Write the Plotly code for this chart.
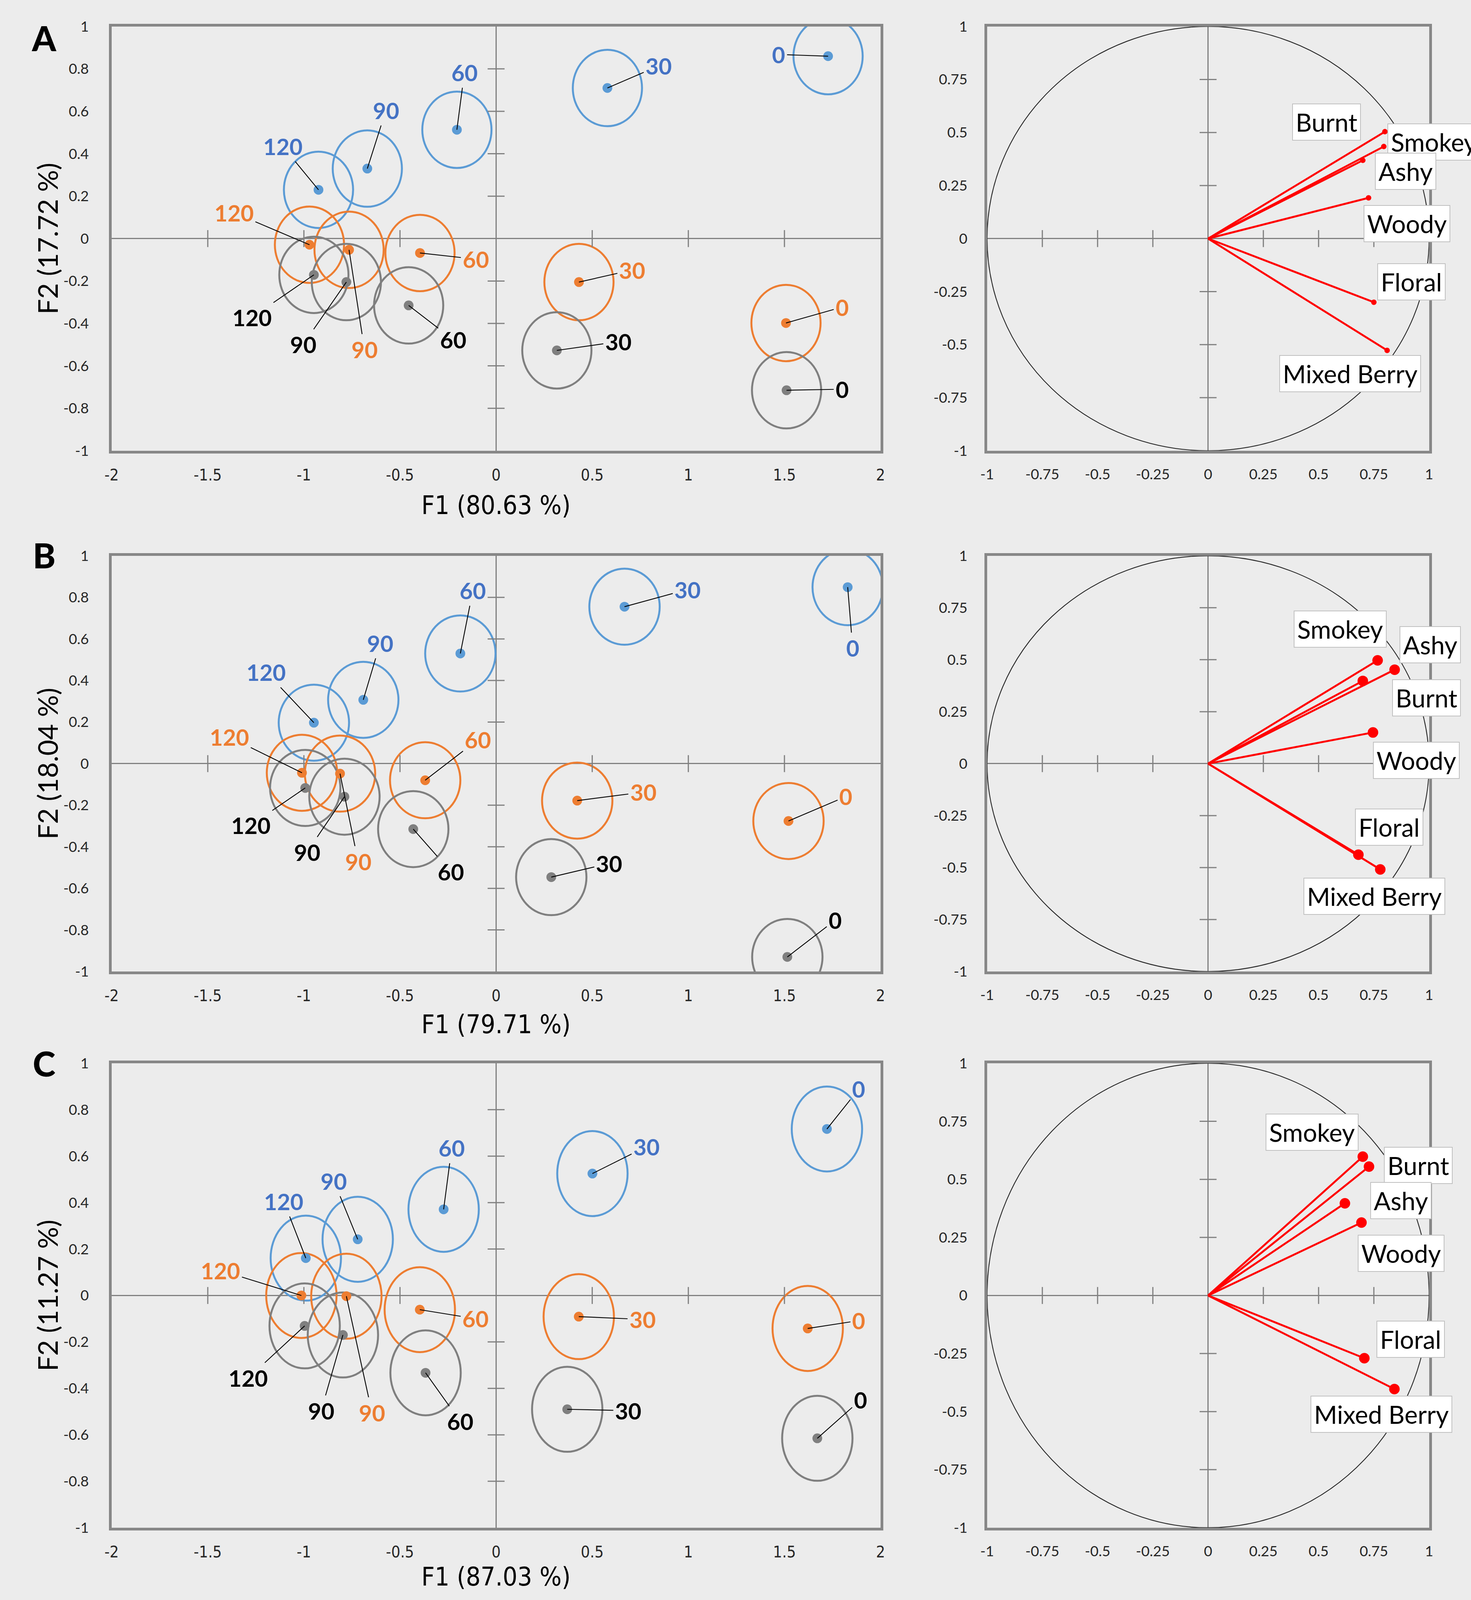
import plotly.graph_objects as go

# The page is shown in a viewport of 3767 x 4096 px, so the figure is sized to fit it;
# all positions below are fractions measured on the 3767 x 4350 reference.
W, H = 3767, 4096
RH = 4350  # reference height used for the measured fractions

# ---------------- DATA ----------------
times = ["0", "30", "60", "90", "120"]
x_ticks_scores = [-2, -1.5, -1, -0.5, 0, 0.5, 1, 1.5, 2]
x_ticktext_scores = ["-2", "-1.5", "-1", "-0.5", "0", "0.5", "1", "1.5", "2"]
y_ticks_scores = [-1, -0.8, -0.6, -0.4, -0.2, 0, 0.2, 0.4, 0.6, 0.8, 1]
y_ticktext_scores = ["-1", "-0.8", "-0.6", "-0.4", "-0.2", "0", "0.2", "0.4", "0.6", "0.8", "1"]
ticks_circle = [-1, -0.75, -0.5, -0.25, 0, 0.25, 0.5, 0.75, 1]
ticktext_circle = ["-1", "-0.75", "-0.5", "-0.25", "0", "0.25", "0.5", "0.75", "1"]

x_titles = ["F1 (80.63 %)", "F1 (79.71 %)", "F1 (87.03 %)"]
y_titles = ["F2 (17.72 %)", "F2 (18.04 %)", "F2 (11.27 %)"]
panel_letters = ["A", "B", "C"]

# scores (F1, F2) for groups blue / orange / grey, times 0..120
A_blue_x = [1.727, 0.579, -0.204, -0.670, -0.924]
A_blue_y = [0.860, 0.710, 0.513, 0.330, 0.230]
A_orange_x = [1.508, 0.431, -0.396, -0.765, -0.971]
A_orange_y = [-0.398, -0.205, -0.068, -0.053, -0.029]
A_grey_x = [1.511, 0.316, -0.455, -0.779, -0.948]
A_grey_y = [-0.715, -0.527, -0.315, -0.205, -0.171]

B_blue_x = [1.829, 0.668, -0.186, -0.691, -0.948]
B_blue_y = [0.849, 0.755, 0.530, 0.307, 0.197]
B_orange_x = [1.521, 0.422, -0.369, -0.812, -1.010]
B_orange_y = [-0.276, -0.178, -0.080, -0.048, -0.044]
B_grey_x = [1.515, 0.287, -0.431, -0.789, -0.993]
B_grey_y = [-0.930, -0.546, -0.315, -0.159, -0.117]

C_blue_x = [1.721, 0.501, -0.273, -0.720, -0.990]
C_blue_y = [0.717, 0.525, 0.371, 0.242, 0.161]
C_orange_x = [1.621, 0.430, -0.397, -0.779, -1.013]
C_orange_y = [-0.142, -0.091, -0.061, -0.003, 0.000]
C_grey_x = [1.671, 0.370, -0.367, -0.797, -0.996]
C_grey_y = [-0.615, -0.490, -0.333, -0.170, -0.131]

# loadings (correlation circle)
A_vars = ["Burnt", "Smokey", "Ashy", "Woody", "Floral", "Mixed Berry"]
A_load_x = [0.800, 0.795, 0.700, 0.726, 0.750, 0.810]
A_load_y = [0.504, 0.434, 0.369, 0.192, -0.300, -0.527]
B_vars = ["Smokey", "Ashy", "Burnt", "Woody", "Floral", "Mixed Berry"]
B_load_x = [0.767, 0.844, 0.700, 0.746, 0.680, 0.779]
B_load_y = [0.497, 0.452, 0.398, 0.150, -0.438, -0.509]
C_vars = ["Smokey", "Burnt", "Ashy", "Woody", "Floral", "Mixed Berry"]
C_load_x = [0.700, 0.728, 0.619, 0.694, 0.707, 0.843]
C_load_y = [0.598, 0.555, 0.397, 0.314, -0.270, -0.403]

# ---------------- LAYOUT (label placement, sizes, styles) ----------------
A_lbl = {
    "blue": [(1.47, 0.868), (0.845, 0.814), (-0.165, 0.783), (-0.573, 0.605), (-1.11, 0.435)],
    "orange": [(1.80, -0.323), (0.708, -0.148), (-0.106, -0.097), (-0.685, -0.522), (-1.364, 0.122)],
    "grey": [(1.80, -0.71), (0.635, -0.486), (-0.224, -0.476), (-1.004, -0.499), (-1.27, -0.371)],
}
B_lbl = {
    "blue": [(1.855, 0.557), (0.996, 0.838), (-0.121, 0.833), (-0.603, 0.58), (-1.196, 0.44)],
    "orange": [(1.82, -0.158), (0.765, -0.137), (-0.095, 0.115), (-0.718, -0.47), (-1.388, 0.128)],
    "grey": [(1.764, -0.753), (0.588, -0.48), (-0.236, -0.52), (-0.984, -0.426), (-1.276, -0.296)],
}
C_lbl = {
    "blue": [(1.887, 0.889), (0.782, 0.641), (-0.231, 0.635), (-0.844, 0.493), (-1.105, 0.406)],
    "orange": [(1.887, -0.108), (0.761, -0.103), (-0.107, -0.10), (-0.646, -0.504), (-1.434, 0.108)],
    "grey": [(1.896, -0.45), (0.687, -0.496), (-0.187, -0.542), (-0.91, -0.496), (-1.289, -0.355)],
}
# (x, y, xanchor)
A_vlbl = [(0.536, 0.549, "center"), (0.811, 0.456, "left"), (0.893, 0.318, "center"),
          (0.90, 0.07, "center"), (0.921, -0.203, "center"), (0.643, -0.636, "center")]
B_vlbl = [(0.598, 0.648, "center"), (0.866, 0.573, "left"), (0.988, 0.316, "center"),
          (0.943, 0.016, "center"), (0.82, -0.305, "center"), (0.752, -0.6375, "center")]
C_vlbl = [(0.471, 0.703, "center"), (0.951, 0.56, "center"), (0.872, 0.408, "center"),
          (0.874, 0.182, "center"), (0.917, -0.188, "center"), (0.463, -0.512, "left")]

ell_r = [0.18, 0.183, 0.183]
load_marker = [14, 27, 27]

left_dom_x = [0.0717, 0.5986]
right_dom_x = [0.6716, 0.9745]
dom_y = [[0.7211, 0.9892], [0.392, 0.6547], [0.0405, 0.334]]
xtitle_y = [1 - 1363 / RH, 1 - 2790 / RH, 1 - 4309 / RH]
letter_y = [1 - 78 / RH, 1 - 1500 / RH, 1 - 2897 / RH]

COL = {
    "blue": dict(pt="#5b9bd5", ell="#5b9bd5", txt="#4472c4"),
    "orange": dict(pt="#ed7d31", ell="#ed7d31", txt="#ed7d31"),
    "grey": dict(pt="#7f7f7f", ell="#7f7f7f", txt="#000000"),
}
BG = "#ececec"
FRAME = "#878787"
AXC = "#808080"
NARROW = "Liberation Sans Narrow, DejaVu Sans Condensed, Roboto, sans-serif"
REG = "Lato, Open Sans, sans-serif"

panels = [
    dict(scores={"blue": (A_blue_x, A_blue_y), "orange": (A_orange_x, A_orange_y), "grey": (A_grey_x, A_grey_y)},
         lbl=A_lbl, vars=A_vars, lx=A_load_x, ly=A_load_y, vlbl=A_vlbl),
    dict(scores={"blue": (B_blue_x, B_blue_y), "orange": (B_orange_x, B_orange_y), "grey": (B_grey_x, B_grey_y)},
         lbl=B_lbl, vars=B_vars, lx=B_load_x, ly=B_load_y, vlbl=B_vlbl),
    dict(scores={"blue": (C_blue_x, C_blue_y), "orange": (C_orange_x, C_orange_y), "grey": (C_grey_x, C_grey_y)},
         lbl=C_lbl, vars=C_vars, lx=C_load_x, ly=C_load_y, vlbl=C_vlbl),
]

fig = go.Figure()
shapes = []
annotations = []
layout_axes = {}


def axname(n):
    return ("x" if n == 1 else f"x{n}"), ("y" if n == 1 else f"y{n}")


for i, p in enumerate(panels):
    nl, nr = 2 * i + 1, 2 * i + 2
    xl, yl = axname(nl)
    xr, yr = axname(nr)

    # ---- axes ----
    common = dict(showgrid=False, zeroline=True, zerolinecolor=AXC, zerolinewidth=3,
                  showline=True, mirror=True, linecolor=FRAME, linewidth=7,
                  ticks="outside", tickcolor="rgba(0,0,0,0)", fixedrange=True)
    layout_axes["xaxis" if nl == 1 else f"xaxis{nl}"] = dict(
        common, domain=left_dom_x, range=[-2, 2], anchor=yl,
        tickvals=x_ticks_scores, ticktext=x_ticktext_scores, ticklen=20,
        tickfont=dict(family=NARROW, size=41, color="#262626"))
    layout_axes[f"yaxis{nl}" if nl > 1 else "yaxis"] = dict(
        common, domain=dom_y[i], range=[-1, 1], anchor=xl,
        tickvals=y_ticks_scores, ticktext=y_ticktext_scores, ticklen=44,
        tickfont=dict(family=REG, size=37, color="#262626"))
    layout_axes[f"xaxis{nr}"] = dict(
        common, domain=right_dom_x, range=[-1, 1], anchor=yr,
        tickvals=ticks_circle, ticktext=ticktext_circle, ticklen=22,
        tickfont=dict(family=REG, size=37, color="#262626"))
    layout_axes[f"yaxis{nr}"] = dict(
        common, domain=dom_y[i], range=[-1, 1], anchor=xr,
        tickvals=ticks_circle, ticktext=ticktext_circle, ticklen=36,
        tickfont=dict(family=REG, size=37, color="#262626"))

    # ---- tick marks crossing the zero lines ----
    xt_in = [t for t in x_ticks_scores if t not in (0, -2, 2)]
    yt_in = [t for t in y_ticks_scores if t not in (0, -1, 1)]
    ct_in = [t for t in ticks_circle if t not in (0, -1, 1)]
    for xa, ya, xs, ys in [(xl, yl, xt_in, yt_in), (xr, yr, ct_in, ct_in)]:
        fig.add_trace(go.Scatter(x=xs, y=[0] * len(xs), xaxis=xa, yaxis=ya, mode="markers",
                                 marker=dict(symbol="line-ns", size=31, line=dict(width=3, color=AXC)),
                                 hoverinfo="skip", showlegend=False))
        fig.add_trace(go.Scatter(x=[0] * len(ys), y=ys, xaxis=xa, yaxis=ya, mode="markers",
                                 marker=dict(symbol="line-ew", size=31, line=dict(width=3, color=AXC)),
                                 hoverinfo="skip", showlegend=False))

    # ---- score points, ellipses, labels ----
    r = ell_r[i]
    for g in ["blue", "orange", "grey"]:
        xs, ys = p["scores"][g]
        for x, y in zip(xs, ys):
            shapes.append(dict(type="circle", xref=xl, yref=yl, x0=x - r, x1=x + r, y0=y - r, y1=y + r,
                               line=dict(color=COL[g]["ell"], width=5), layer="between"))
        fig.add_trace(go.Scatter(x=xs, y=ys, xaxis=xl, yaxis=yl, mode="markers",
                                 marker=dict(size=25, color=COL[g]["pt"]),
                                 hoverinfo="skip", showlegend=False))
        for t, x, y, (ax, ay) in zip(times, xs, ys, p["lbl"][g]):
            annotations.append(dict(x=x, y=y, xref=xl, yref=yl, ax=ax, ay=ay, axref=xl, ayref=yl,
                                    text=t, showarrow=True, arrowhead=0, arrowwidth=2.2,
                                    arrowcolor="#000000", standoff=0, borderpad=4,
                                    font=dict(family=REG, size=58, color=COL[g]["txt"], weight="bold")))

    # ---- correlation circle ----
    shapes.append(dict(type="circle", xref=xr, yref=yr, x0=-1, x1=1, y0=-1, y1=1,
                       line=dict(color="#262626", width=2.2), layer="between"))
    vx, vy = [], []
    for x, y in zip(p["lx"], p["ly"]):
        vx += [0, x, None]
        vy += [0, y, None]
    fig.add_trace(go.Scatter(x=vx, y=vy, xaxis=xr, yaxis=yr, mode="lines",
                             line=dict(color="#ff0000", width=5), hoverinfo="skip", showlegend=False))
    fig.add_trace(go.Scatter(x=p["lx"], y=p["ly"], xaxis=xr, yaxis=yr, mode="markers",
                             marker=dict(size=load_marker[i], color="#ff0000"),
                             hoverinfo="skip", showlegend=False))
    for name, (lx, ly, anc) in zip(p["vars"], p["vlbl"]):
        annotations.append(dict(x=lx, y=ly, xref=xr, yref=yr, text=name, showarrow=False,
                                xanchor=anc, yanchor="middle", bgcolor="#ffffff",
                                bordercolor="#c0c0c0", borderwidth=2, borderpad=7,
                                font=dict(family=REG, size=64, color="#000000")))

    # ---- axis titles and panel letter ----
    annotations.append(dict(x=0.5, y=xtitle_y[i], xref=f"{xl} domain", yref="paper",
                            text=x_titles[i], showarrow=False, xanchor="center", yanchor="middle",
                            font=dict(family=NARROW, size=66, color="#000000")))
    annotations.append(dict(x=104 / W, y=sum(dom_y[i]) / 2, xref="paper", yref="paper",
                            text=y_titles[i], showarrow=False, textangle=-90,
                            xanchor="center", yanchor="middle",
                            font=dict(family=REG, size=70, color="#000000")))
    annotations.append(dict(x=96 / W, y=letter_y[i], xref="paper", yref="paper",
                            text=panel_letters[i], showarrow=False, xanchor="center", yanchor="middle",
                            font=dict(family=REG, size=88, color="#000000", weight=900)))

fig.update_layout(width=W, height=H, margin=dict(l=0, r=0, t=0, b=0, pad=0),
                  paper_bgcolor=BG, plot_bgcolor=BG, showlegend=False,
                  shapes=shapes, annotations=annotations, **layout_axes)

page_fix = "document.body.style.margin='0px'; document.body.style.overflow='hidden'; document.body.style.background='#ececec';"
fig.write_html("out.html", post_script=page_fix, config={"displayModeBar": False, "staticPlot": True})
